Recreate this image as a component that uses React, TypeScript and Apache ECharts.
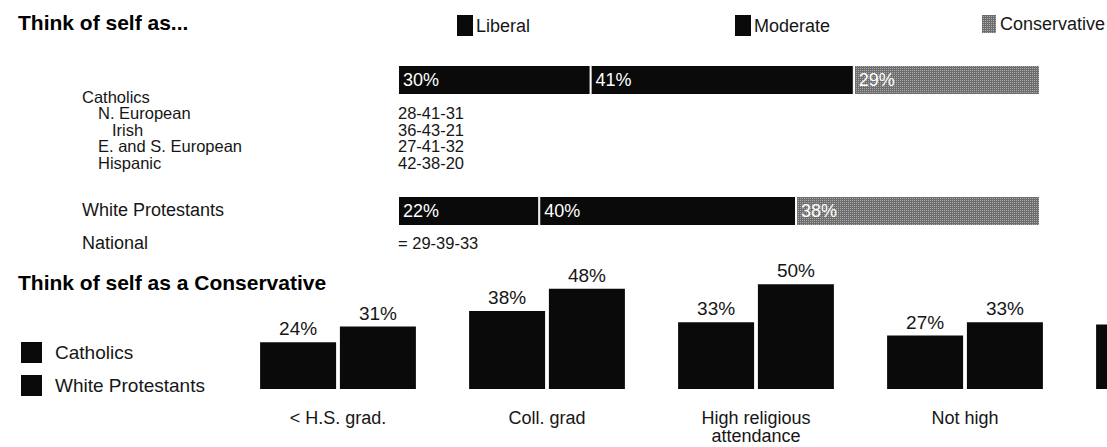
import React, { useEffect, useRef } from "react";
import * as echarts from "echarts";

// ---------- data ----------
const mainGroups = ["Catholics", "White Protestants"];
const liberalPct = [30, 22];
const moderatePct = [41, 40];
const conservativePct = [29, 38];

const subgroupNames = ["N. European", "Irish", "E. and S. European", "Hispanic"];
const subLiberal = [28, 36, 27, 42];
const subModerate = [41, 43, 41, 38];
const subConservative = [31, 21, 32, 20];

const nationalLabel = "National";
const nationalValues = [29, 39, 33];

const consCategories = ["< H.S. grad.", "Coll. grad", "High religious\nattendance", "Not high", ""];
const catholicCons = [24, 38, 33, 27, 32];
const protestantCons: (number | null)[] = [31, 48, 50, 33, null];

const titleTop = "Think of self as...";
const titleBottom = "Think of self as a Conservative";

// ---------- style ----------
const FONT = "'Liberation Sans', Arial, Helvetica, sans-serif";
const INK = "#0a0a0a";
const TXT = "#161616";

export default function App() {
  const ref = useRef<HTMLDivElement>(null);

  useEffect(() => {
    if (!ref.current) return;
    const chart = echarts.init(ref.current, undefined, { renderer: "svg" });

    const fmt = (a: number[]) => a.join("-");
    const subIndent = [98, 112, 98, 98];
    const subY = [113, 129.5, 146, 162.5];

    const txt = (text: string, x: number, y: number, size = 16.5) => ({
      type: "text",
      x,
      y,
      style: { text, fontSize: size, lineHeight: 16, fontFamily: FONT, fill: TXT, verticalAlign: "middle" },
    });

    const graphic: any[] = [
      { type: "text", x: 18, y: 22, style: { text: titleTop, fontSize: 21, fontWeight: "bold", fontFamily: FONT, fill: "#000", verticalAlign: "middle" } },
      { type: "text", x: 18, y: 282, style: { text: titleBottom, fontSize: 21, fontWeight: "bold", fontFamily: FONT, fill: "#000", verticalAlign: "middle" } },
      txt(mainGroups[0], 82, 96.5, 16.5),
      txt(mainGroups[1], 82, 210, 18),
      txt(nationalLabel, 82, 243, 18),
      txt("= " + fmt(nationalValues), 398, 243, 16.5),
    ];
    subgroupNames.forEach((n, i) => {
      graphic.push(txt(n, subIndent[i], subY[i], 16.5));
      graphic.push(txt(fmt([subLiberal[i], subModerate[i], subConservative[i]]), 398, subY[i], 16.5));
    });

    const consDecal = {
      symbol: "rect",
      symbolSize: 1,
      color: "rgba(210,210,210,0.6)",
      dashArrayX: [1, 1],
      dashArrayY: [1, 1],
      rotation: 0,
    };

    const topLabel = {
      show: true,
      position: "insideLeft",
      distance: 5,
      color: "#fff",
      fontSize: 18,
      fontFamily: FONT,
      formatter: "{c}%",
    };

    const legendText = { fontSize: 18, color: TXT, fontFamily: FONT };

    chart.setOption({
      animation: false,
      backgroundColor: "#fff",
      textStyle: { fontFamily: FONT },
      legend: [
        { data: ["Liberal"], left: 450, top: 8, icon: "rect", itemWidth: 18, itemHeight: 23, textStyle: { ...legendText, padding: [4, 0, 0, -3] }, selectedMode: false },
        { data: ["Moderate"], left: 728, top: 8, icon: "rect", itemWidth: 18, itemHeight: 23, textStyle: { ...legendText, padding: [4, 0, 0, -3] }, selectedMode: false },
        { data: ["Conservative"], left: 975, top: 8, icon: "rect", itemWidth: 16, itemHeight: 20, textStyle: { ...legendText, padding: [2, 0, 0, -2] }, selectedMode: false },
        { data: ["Catholics", "White Protestants"], orient: "vertical", left: 16, top: 337, icon: "rect", itemWidth: 21, itemHeight: 21, itemGap: 12, textStyle: { fontSize: 19, color: TXT, fontFamily: FONT, padding: [2, 0, 0, 8] }, selectedMode: false },
      ],
      grid: [
        { left: 398, top: 14.5, width: 642, height: 262, outerBoundsMode: "none", containLabel: false },
        { left: 233.5, top: 262, width: 1045, height: 127, outerBoundsMode: "none", containLabel: false },
      ],
      xAxis: [
        { type: "value", gridIndex: 0, min: 0, max: 100, show: false },
        {
          type: "category",
          gridIndex: 1,
          data: consCategories,
          axisLine: { show: false },
          axisTick: { show: false },
          axisLabel: { margin: 20, fontSize: 18, lineHeight: 18, color: TXT, fontFamily: FONT, interval: 0 },
        },
      ],
      yAxis: [
        { type: "category", gridIndex: 0, data: mainGroups, inverse: true, show: false },
        { type: "value", gridIndex: 1, min: 3, max: 60, show: false },
      ],
      series: [
        { name: "Liberal", type: "bar", stack: "top", xAxisIndex: 0, yAxisIndex: 0, barWidth: 30, data: liberalPct, itemStyle: { color: INK, borderColor: "#fff", borderWidth: 1 }, label: topLabel },
        { name: "Moderate", type: "bar", stack: "top", xAxisIndex: 0, yAxisIndex: 0, barWidth: 30, data: moderatePct, itemStyle: { color: INK, borderColor: "#fff", borderWidth: 1 }, label: topLabel },
        { name: "Conservative", type: "bar", stack: "top", xAxisIndex: 0, yAxisIndex: 0, barWidth: 30, data: conservativePct, itemStyle: { color: "#6e6e6e", borderColor: "#fff", borderWidth: 1, decal: consDecal }, label: topLabel },
        {
          name: "Catholics", type: "bar", xAxisIndex: 1, yAxisIndex: 1, barWidth: 76, barGap: "5%",
          data: catholicCons.map((v, i) => (i === 4 ? { value: v, label: { show: false } } : v)),
          itemStyle: { color: INK },
          label: { show: true, position: "top", distance: 4, fontSize: 19, color: TXT, fontFamily: FONT, formatter: "{c}%" },
        },
        {
          name: "White Protestants", type: "bar", xAxisIndex: 1, yAxisIndex: 1, barWidth: 76, barGap: "5%",
          data: protestantCons,
          itemStyle: { color: INK },
          label: { show: true, position: "top", distance: 4, fontSize: 19, color: TXT, fontFamily: FONT, formatter: "{c}%" },
        },
      ],
      graphic,
    });

    return () => chart.dispose();
  }, []);

  return <div ref={ref} style={{ position: "fixed", left: 0, top: 0, width: 1107, height: 447, background: "#fff" }} />;
}
